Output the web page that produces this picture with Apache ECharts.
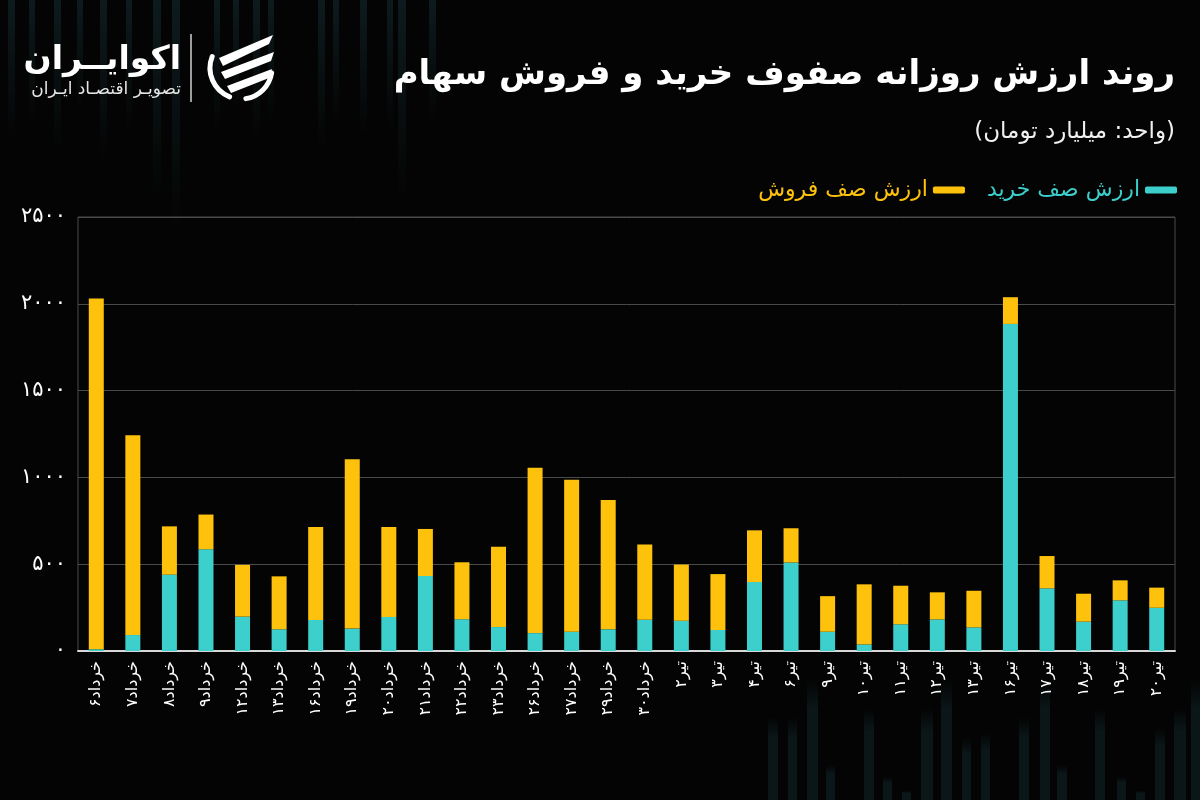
<!DOCTYPE html>
<html>
<head>
<meta charset="utf-8">
<script src="https://cdn.jsdelivr.net/npm/echarts@6/dist/echarts.min.js"></script>
<style>
html,body{margin:0;padding:0;background:#040404;}
#chart{width:1200px;height:800px;}
</style>
</head>
<body>
<div id="chart"></div>
<script>
const categories = ['خرداد۶','خرداد۷','خرداد۸','خرداد۹','خرداد۱۲','خرداد۱۳','خرداد۱۶','خرداد۱۹','خرداد۲۰','خرداد۲۱','خرداد۲۲','خرداد۲۳','خرداد۲۶','خرداد۲۷','خرداد۲۹','خرداد۳۰','تیر۲','تیر۳','تیر۴','تیر۶','تیر۹','تیر۱۰','تیر۱۱','تیر۱۲','تیر۱۳','تیر۱۶','تیر۱۷','تیر۱۸','تیر۱۹','تیر۲۰'];
const buyValues  = [10, 92, 440, 586, 198, 125, 179, 129, 196, 432, 183, 138, 103, 111, 125, 180, 174, 121, 397, 510, 111, 38, 154, 182, 136, 1884, 361, 169, 292, 249];
const sellValues = [2020, 1151, 278, 200, 298, 305, 536, 976, 519, 271, 328, 462, 952, 876, 745, 433, 324, 322, 298, 197, 205, 346, 222, 156, 211, 154, 186, 161, 115, 116];
const seriesNames = ['ارزش صف خرید', 'ارزش صف فروش'];
const persianDigits = ['۰','۱','۲','۳','۴','۵','۶','۷','۸','۹'];
const titleText = 'روند ارزش روزانه صفوف خرید و فروش سهام';
const subtitleText = '(واحد: میلیارد تومان)';
const brandName = 'اکوایــران';
const brandTagline = 'تصویـر اقتصـاد ایـران';

const FONT = '"DejaVu Sans", "Noto Sans", sans-serif';
const TEAL = '#3ccfcc';
const YELLOW = '#fec20c';
const toFa = v => String(v).replace(/[0-9]/g, d => persianDigits[+d]);

// faint decorative background streaks [x, yTop, yBottom, width]
const streaks = [
  [8,0,140,7],[29,0,120,6],[54,0,150,7],[77,0,110,6],[100,0,160,7],[126,0,130,6],[153,0,200,8],[172,0,230,8],
  [214,0,130,6],[233,0,110,6],[253,0,140,7],[268,0,120,6],[318,0,150,7],[333,0,120,6],[360,0,135,7],[387,0,130,6],[398,0,200,8],[429,0,120,7],
  [768,717,800,10],[788,717,800,9],[807,680,800,11],[826,765,800,9],[864,708,800,10],[883,777,800,9],[902,791,800,9],
  [921,708,800,12],[941,680,800,11],[962,738,800,9],[981,733,800,9],[1019,717,800,10],[1040,680,800,10],[1057,765,800,10],
  [1095,708,800,10],[1117,777,800,9],[1136,791,800,9],[1155,728,800,10],[1174,708,800,12],[1191,680,800,9]
];

const bgGraphics = streaks.map(s => ({
  type: 'rect', z: -10, silent: true,
  shape: {x: s[0], y: s[1], width: s[3], height: s[2] - s[1]},
  style: {fill: new echarts.graphic.LinearGradient(0, 0, 0, 1, s[1] === 0
    ? [{offset: 0, color: 'rgba(30,70,78,0.35)'}, {offset: 1, color: 'rgba(30,70,78,0.0)'}]
    : [{offset: 0, color: 'rgba(30,70,78,0.0)'}, {offset: 0.25, color: 'rgba(30,70,78,0.28)'}, {offset: 1, color: 'rgba(30,70,78,0.28)'}])}
}));

const chart = echarts.init(document.getElementById('chart'), null, {renderer: 'canvas'});
chart.setOption({
  backgroundColor: '#040404',
  animation: false,
  title: [
    {text: titleText, right: 20, top: 53, textStyle: {color: '#ffffff', fontFamily: FONT, fontWeight: 'bold', fontSize: 34}},
    {text: subtitleText, right: 20, top: 116, textStyle: {color: '#f0f0f0', fontFamily: FONT, fontWeight: 'normal', fontSize: 23}}
  ],
  legend: {
    right: 18, top: 174, align: 'right', itemWidth: 32, itemHeight: 7, itemGap: 22, icon: 'roundRect',
    data: [
      {name: seriesNames[1], textStyle: {color: YELLOW}},
      {name: seriesNames[0], textStyle: {color: TEAL}}
    ],
    textStyle: {fontFamily: FONT, fontSize: 22}
  },
  grid: {left: 78, right: 25, top: 217, bottom: 149, show: true, borderColor: '#4a4a4a', borderWidth: 1, containLabel: false},
  xAxis: {
    type: 'category', data: categories,
    axisLine: {lineStyle: {color: '#d8d8d8', width: 2}},
    axisTick: {show: false},
    axisLabel: {rotate: 90, color: '#ffffff', fontFamily: FONT, fontSize: 16, margin: 10, interval: 0}
  },
  yAxis: {
    type: 'value', min: 0, max: 2500, interval: 500,
    axisLine: {show: false}, axisTick: {show: false},
    splitLine: {lineStyle: {color: '#4a4a4a', width: 1}},
    axisLabel: {color: '#ffffff', fontFamily: FONT, fontSize: 21, margin: 12, formatter: v => toFa(v)}
  },
  series: [
    {name: seriesNames[0], type: 'bar', stack: 'total', data: buyValues, barWidth: 15, itemStyle: {color: TEAL}},
    {name: seriesNames[1], type: 'bar', stack: 'total', data: sellValues, barWidth: 15, itemStyle: {color: YELLOW}}
  ],
  graphic: bgGraphics.concat([
    {type: 'text', x: 181, y: 44, style: {text: brandName, fill: '#ffffff', font: 'bold 33px ' + FONT, align: 'right'}},
    {type: 'text', x: 181, y: 81, style: {text: brandTagline, fill: '#e6e6e6', font: '17px ' + FONT, align: 'right'}},
    {type: 'line', shape: {x1: 191, y1: 34, x2: 191, y2: 102}, style: {stroke: '#d0d0d0', lineWidth: 1.5}},
    {type: 'group', x: 241, y: 68, children: [
      {type: 'arc', shape: {cx: 0, cy: 0, r: 31, startAngle: Math.PI * 0.62, endAngle: Math.PI * 1.12}, style: {stroke: '#ffffff', lineWidth: 5, fill: null, lineCap: 'round'}},
      {type: 'arc', shape: {cx: 0, cy: 0, r: 31, startAngle: Math.PI * 0.05, endAngle: Math.PI * 0.45}, style: {stroke: '#ffffff', lineWidth: 5, fill: null, lineCap: 'round'}},
      {type: 'polygon', shape: {points: [[-22, -10], [32, -33], [28, -24], [-18, -2]]}, style: {fill: '#ffffff'}},
      {type: 'polygon', shape: {points: [[-20, 4], [33, -16], [30, -7], [-16, 11]]}, style: {fill: '#ffffff'}},
      {type: 'polygon', shape: {points: [[-14, 18], [31, 1], [28, 10], [-10, 25]]}, style: {fill: '#ffffff'}}
    ]}
  ])
});
</script>
</body>
</html>
